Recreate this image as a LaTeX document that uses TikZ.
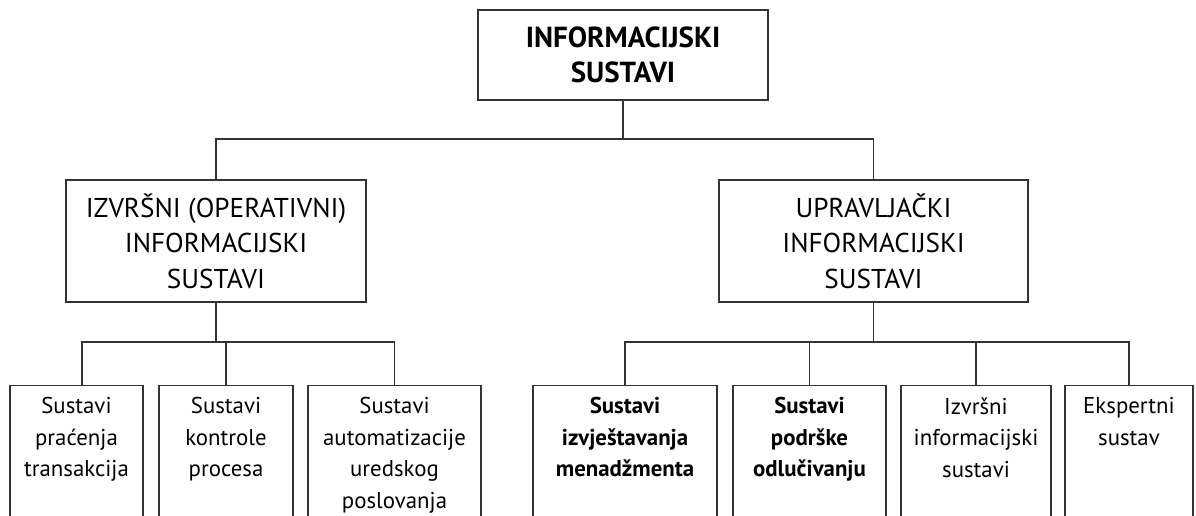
\documentclass[tikz,border=0pt]{standalone}
\usepackage{fontspec}
\setmainfont{PT Sans}
\usetikzlibrary{positioning}

\tikzset{
  conn/.style={draw=black!80, line width=0.7pt},
  mainbox/.style={draw=black!80, line width=0.7pt, rectangle, align=center, inner sep=0pt},
  leafbox/.style={draw=black!80, line width=0.7pt, rectangle, anchor=north, minimum height=3.1cm},
  leaftext/.style={anchor=north, align=center, inner sep=0pt, yshift=-7pt, font=\fontsize{13}{17.9}\selectfont}
}

\begin{document}
\begin{tikzpicture}[x=0.02cm, y=-0.02cm]
\useasboundingbox (0,0) rectangle (1196,516);
\clip (0,0) rectangle (1196,516);

% Root
\node[mainbox, minimum width=5.8cm, minimum height=1.8cm, font=\bfseries\fontsize{16.5}{19.8}\selectfont] (info) at (623,55) {INFORMACIJSKI\\SUSTAVI};

% Second level
\node[mainbox, minimum width=6cm, minimum height=2.44cm, font=\fontsize{15.5}{20.2}\selectfont] (izvrsni) at (216,241) {IZVRŠNI (OPERATIVNI)\\INFORMACIJSKI\\SUSTAVI};
\node[mainbox, minimum width=6.18cm, minimum height=2.44cm, font=\fontsize{15.5}{20.2}\selectfont] (upravljacki) at (873.5,241) {UPRAVLJAČKI\\INFORMACIJSKI\\SUSTAVI};

% Leaves (left)
\node[leafbox, minimum width=2.66cm] (tps) at (76.5,385) {};
\node[leafbox, minimum width=2.68cm] (kontrola) at (226,385) {};
\node[leafbox, minimum width=3.46cm] (ured) at (394.5,385) {};

% Leaves (right)
\node[leafbox, minimum width=3.68cm] (izvjest) at (625,385) {};
\node[leafbox, minimum width=3.06cm] (podrska) at (809.5,385) {};
\node[leafbox, minimum width=3cm] (eis) at (976,385) {};
\node[leafbox, minimum width=2.56cm] (eksp) at (1129,385) {};

% Leaf texts
\node[leaftext] (tps-t) at (tps.north) {Sustavi\\praćenja\\transakcija};
\node[leaftext] (kontrola-t) at (kontrola.north) {Sustavi\\kontrole\\procesa};
\node[leaftext] (ured-t) at (ured.north) {Sustavi\\automatizacije\\uredskog\\poslovanja};
\node[leaftext, font=\bfseries\fontsize{13}{17.9}\selectfont] (izvjest-t) at (izvjest.north) {Sustavi\\izvještavanja\\menadžmenta};
\node[leaftext, font=\bfseries\fontsize{13}{17.9}\selectfont] (podrska-t) at (podrska.north) {Sustavi\\podrške\\odlučivanju};
\node[leaftext] (eis-t) at (eis.north) {Izvršni\\informacijski\\sustavi};
\node[leaftext] (eksp-t) at (eksp.north) {Ekspertni\\sustav};

% Buses
\coordinate (busTop) at (623,139);
\coordinate (busL) at (218,342);
\coordinate (busR) at (872,342);

% Connectors
\draw[conn] (info.south) -- (busTop);
\draw[conn] (izvrsni.north) |- (busTop) -| (upravljacki.north);

\draw[conn] (izvrsni.south) -- (izvrsni.south |- busL);
\draw[conn] ([xshift=0.11cm]tps.north) |- (busL) -| (ured.north);
\draw[conn] (kontrola.north) -- (kontrola.north |- busL);

\draw[conn] (upravljacki.south) -- (upravljacki.south |- busR);
\draw[conn] (izvjest.north) |- (busR) -| (eksp.north);
\draw[conn] (podrska.north) -- (podrska.north |- busR);
\draw[conn] (eis.north) -- (eis.north |- busR);
\end{tikzpicture}
\end{document}
